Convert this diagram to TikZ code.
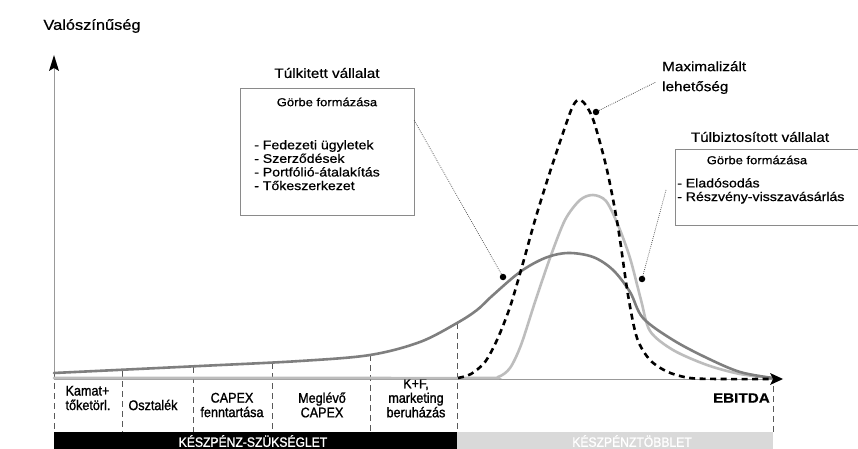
\documentclass[tikz,border=0pt]{standalone}
\usepackage{fontspec}
\setmainfont{Liberation Sans}
\newfontfamily\wide[FakeStretch=1.13,FakeBold=0.6]{Liberation Sans}
\newfontfamily\cond[FakeStretch=0.9,FakeBold=1.2]{Liberation Sans}
\usetikzlibrary{arrows.meta}
\definecolor{curvedark}{HTML}{7F7F7F}
\definecolor{curvelight}{HTML}{BDBDBD}
\definecolor{boxline}{HTML}{8A8A8A}
\definecolor{barlight}{HTML}{D9D9D9}
\begin{document}
\begin{tikzpicture}[x=1pt,y=-1pt,
  axisline/.style={draw=gray!80, line width=0.8pt},
  darkcurve/.style={draw=curvedark, line width=2.6pt, line cap=round},
  lightcurve/.style={draw=curvelight, line width=2.6pt, line cap=round},
  maxcurve/.style={draw=black, line width=2.6pt, dash pattern=on 6pt off 4.5pt},
  divider/.style={draw=gray!70!black, line width=0.6pt, dash pattern=on 6pt off 4pt},
  leader/.style={draw=gray!60!black, line width=0.7pt, dash pattern=on 0.8pt off 1.2pt},
  dotmark/.style={circle, fill=black, inner sep=0pt, minimum size=6.5pt},
  framebox/.style={draw=boxline, line width=0.8pt},
  titletxt/.style={font=\wide\fontsize{13.5}{16}\selectfont, inner sep=0pt},
  subtxt/.style={font=\wide\fontsize{11.5}{14}\selectfont, inner sep=0pt},
  itemtxt/.style={font=\wide\fontsize{12.5}{13.6}\selectfont, inner sep=0pt, align=left},
  celltxt/.style={font=\cond\fontsize{14}{14.5}\selectfont, inner sep=0pt, align=center},
  bartxt/.style={font=\cond\fontsize{13.5}{14}\selectfont, text=white, inner sep=0pt}
]
\useasboundingbox (0,0) rectangle (858,449);
\fill[white] (0,0) rectangle (858,449);

% bottom bars
\fill[black] (54,432) rectangle (457,449);
\fill[barlight] (457,432) rectangle (773,449);
\node[bartxt] (need) at (253,441) {KÉSZPÉNZ-SZÜKSÉGLET};
\node[bartxt] (surplus) at (632,441) {KÉSZPÉNZTÖBBLET};

% axes
\coordinate (origin) at (54,379);
\coordinate (ytip) at (54,55);
\coordinate (xend) at (783,379);
\draw[axisline] (origin) -- (54,68);
\draw[axisline] (origin) -- (776,379);
\fill[black] (ytip) -- (59,71) -- (54,68) -- (49,71) -- cycle;
\node[font=\wide\fontsize{14.5}{16}\selectfont, inner sep=0pt] (ylab) at (92,26) {Valószínűség};
\node[font=\wide\bfseries\fontsize{13.5}{16}\selectfont, inner sep=0pt, anchor=east] (xlab) at (770,398) {EBITDA};

% dividers
\draw[divider] (54,373) -- (54,432);
\draw[divider] (122,371) -- (122,432);
\draw[divider] (193,367) -- (193,432);
\draw[divider] (272,363) -- (272,432);
\draw[divider] (370,355) -- (370,432);
\draw[divider] (457,323) -- (457,432);
\draw[divider] (773,386) -- (773,432);

% cell labels
\node[celltxt, align=left] (c1) at (88,398) {Kamat+\\tőketörl.};
\node[celltxt] (c2) at (153,405) {Osztalék};
\node[celltxt] (c3) at (232,405) {CAPEX\\fenntartása};
\node[celltxt] (c4) at (322,405) {Meglévő\\CAPEX};
\node[celltxt] (c5) at (416,398) {K+F,\\marketing\\beruházás};

% curves
\draw[lightcurve] plot[smooth, tension=0.5] coordinates {(54,378) (300,378) (480,378) (498,377) (510,368) (521,345) (535,302) (550,258) (565,220) (580,200) (593,195) (606,201) (618,225) (630,258) (641,300) (650,331) (673,350) (707,365) (740,374) (773,378)};
\draw[darkcurve] plot[smooth, tension=0.55] coordinates {(54,373) (200,366) (300,361) (370,355) (420,342) (457,323) (477,310) (492,296) (520,272) (545,258) (568,253) (593,257) (613,270) (630,292) (643,318) (673,340) (707,358) (740,372) (773,378)};
\draw[maxcurve] plot[smooth, tension=0.5] coordinates {(458,378) (471,374) (485,362) (497,340) (510,307) (523,263) (535,220) (548,178) (563,133) (572,108) (578,100) (585,104) (594,122) (607,170) (618,227) (628,295) (637,338) (650,360) (668,372) (690,378) (720,379) (774,379)};
\fill[black] (xend) -- (770,373) -- (773,379) -- (770,385) -- cycle;

% Túlkitett box
\draw[framebox] (240,88) rectangle (414,215);
\node[titletxt] (t1) at (327,73) {Túlkitett vállalat};
\node[subtxt] (s1) at (327,102) {Görbe formázása};
\node[itemtxt, anchor=north west] (i1) at (254,140) {- Fedezeti ügyletek\\- Szerződések\\- Portfólió-átalakítás\\- Tőkeszerkezet};
\node[dotmark] (d1) at (503,277) {};
\coordinate (l1) at (414,120);
\draw[leader] (d1) -- (l1);

% Maximalizált
\node[titletxt, align=left, anchor=north west, font=\wide\fontsize{13.5}{20}\selectfont] (mx) at (662,61) {Maximalizált\\lehetőség};
\node[dotmark] (d2) at (596,112) {};
\coordinate (l2) at (656,82);
\draw[leader] (d2) -- (l2);

% Túlbiztosított box
\draw[framebox] (858,149) -- (675,149) -- (675,225) -- (858,225);
\node[titletxt] (t2) at (760,137) {Túlbiztosított vállalat};
\node[subtxt] (s2) at (757,160) {Görbe formázása};
\node[itemtxt, anchor=north west] (i2) at (677,178) {- Eladósodás\\- Részvény-visszavásárlás};
\node[dotmark] (d3) at (642,279) {};
\coordinate (l3) at (666,190);
\draw[leader] (d3) -- (l3);
\end{tikzpicture}
\end{document}
